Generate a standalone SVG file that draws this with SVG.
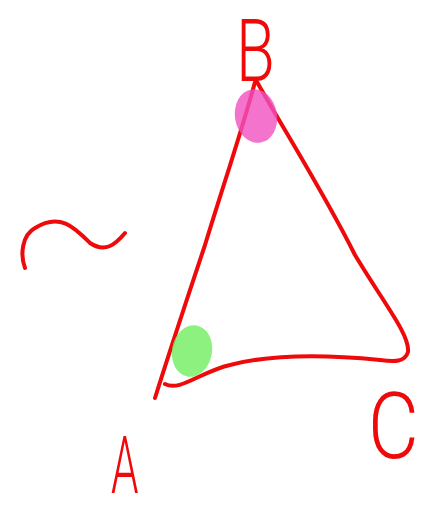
<svg xmlns="http://www.w3.org/2000/svg" width="434" height="516" viewBox="0 0 434 516">
<style>
.ink{fill:none;stroke:#ee0a0a;stroke-width:4;stroke-linecap:round;stroke-linejoin:round}
.lbl{fill:#ee0a0a;font-family:Roboto,"Liberation Sans",Arial,sans-serif;font-weight:300}
</style>
<rect width="434" height="516" fill="#fff"/>
<g id="connectors">
<path class="ink" d="M155,398 C170,350 190,290 205,245 C225,180 242,130 255,82"/>
<path class="ink" d="M257,82 C290,140 325,195 355,255 C385,305 410,335 408,352 C405,362 395,362 380,360 C340,356 280,352 230,365 C200,372 180,392 165,384"/>
</g>
<g id="tilde"><path class="ink" d="M25,268 C20,255 22,235 35,228 C60,212 75,228 90,243 C105,253 115,245 125,233"/></g>
<g id="angleB"><ellipse cx="256" cy="116" rx="21" ry="27" transform="rotate(-10 256 116)" fill="#f050c0" opacity="0.8"/></g>
<g id="angleA"><ellipse cx="192" cy="351" rx="20" ry="26" transform="rotate(10 192 351)" fill="#70ee60" opacity="0.8"/></g>
<g id="nodeB"><text class="lbl" transform="translate(236,81) scale(0.72,1)" font-size="88">B</text></g>
<g id="nodeA"><text class="lbl" transform="translate(111,493) scale(0.55,1)" font-size="80">A</text></g>
<g id="nodeC"><text class="lbl" transform="translate(368,458) scale(0.85,1)" font-size="92">C</text></g>
</svg>
